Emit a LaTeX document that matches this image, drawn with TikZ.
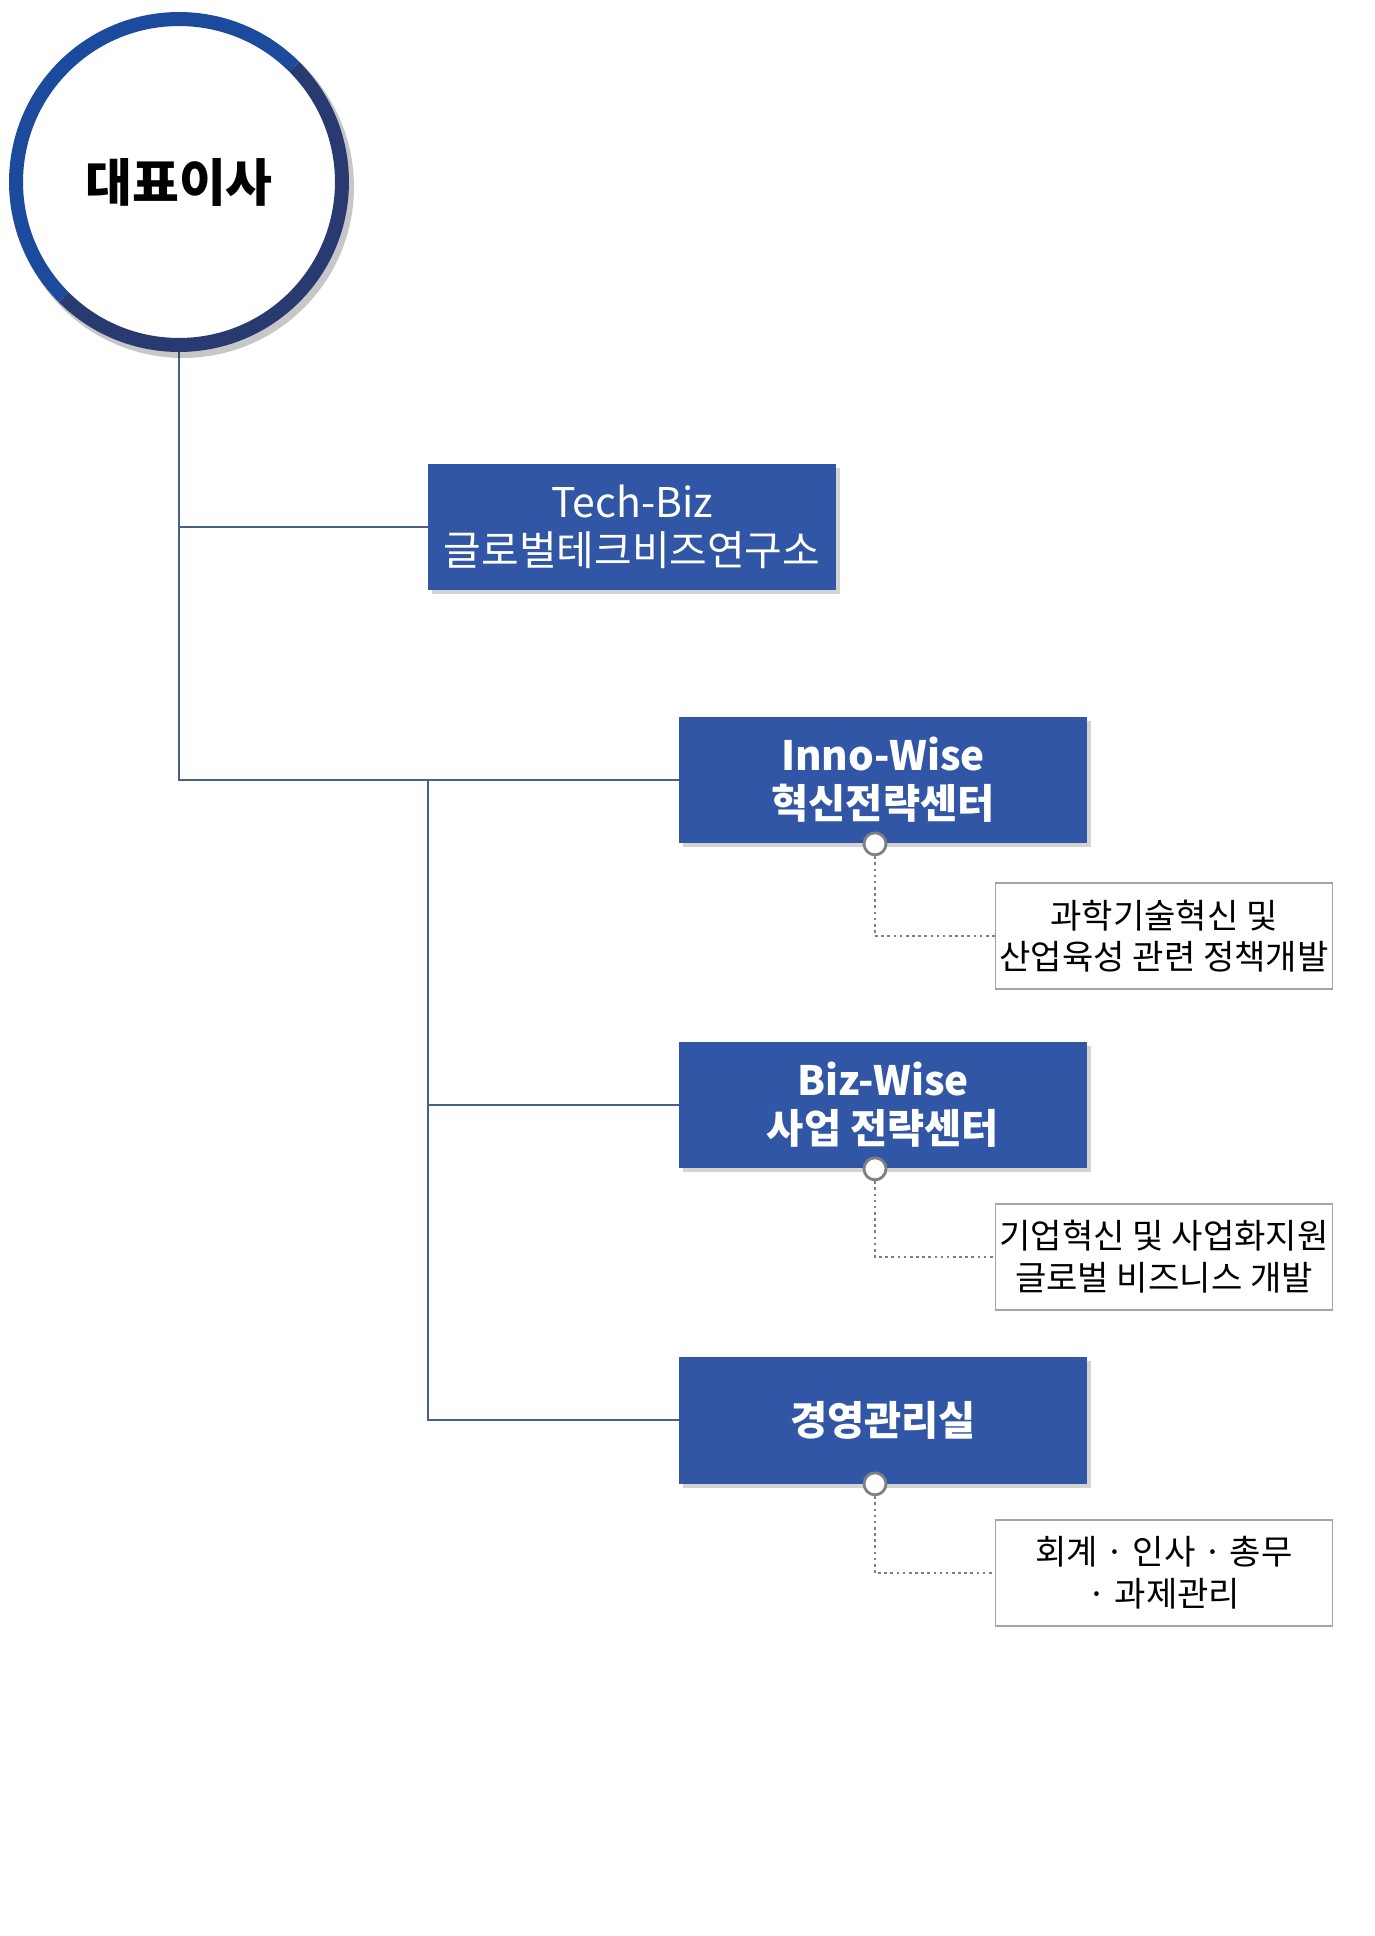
\documentclass[tikz,border=0pt]{standalone}
\usepackage{fontspec}
\usepackage{tikz}
\usetikzlibrary{calc, shadows, backgrounds}
\newfontfamily\krfont{Noto Sans CJK KR}
\definecolor{ceo-blue}{HTML}{1C4A9C}
\definecolor{ceo-navy}{HTML}{293A70}
\definecolor{unit-blue}{HTML}{3056A5}
\definecolor{link-gray}{HTML}{4B5F86}
\definecolor{port-gray}{HTML}{7F7F7F}

\begin{document}
\begin{tikzpicture}[
    x=0.02cm, y=-0.02cm,
    unit/.style={fill=unit-blue, text=white, minimum width=8.16cm, minimum height=2.54cm, inner sep=0pt, align=center, font=\krfont\fontsize{23.3}{27.2}\selectfont, drop shadow={shadow xshift=0.08cm, shadow yshift=-0.08cm, opacity=0.35}},
    unitbold/.style={unit, font=\krfont\bfseries\fontsize{23}{27.2}\selectfont},
    duty/.style={draw=port-gray!70, fill=white, line width=0.8pt, minimum width=6.74cm, minimum height=2.12cm, inner sep=0pt, align=center, font=\krfont\fontsize{19.4}{23.8}\selectfont},
    port/.style={circle, draw=port-gray, line width=1.6pt, fill=white, minimum size=0.44cm, inner sep=0pt},
    link/.style={draw=link-gray, line width=0.9pt},
    dots/.style={draw=port-gray, line width=1.5pt, dotted}
]
    \useasboundingbox (0,0) rectangle (1374,1936);

    \fill [black, opacity=0.22] (183,187) circle [radius=3.42cm];
    \node (ceo) [circle, fill=white, minimum size=6.52cm, inner sep=0pt, font=\krfont\bfseries\fontsize{29}{33}\selectfont] at (179,182) {대표이사};
    \draw [ceo-blue, line width=0.28cm] ([shift={(45:3.26cm)}]ceo.center) arc [start angle=45, end angle=225, radius=3.26cm];
    \draw [ceo-navy, line width=0.28cm] ([shift={(225:3.26cm)}]ceo.center) arc [start angle=225, end angle=405, radius=3.26cm];

    \node (lab) [unit] at (632,527) {Tech-Biz\\글로벌테크비즈연구소};
    \node (inno) [unitbold] at (883,780) {Inno-Wise\\혁신전략센터};
    \node (biz) [unitbold] at (883,1105) {Biz-Wise\\사업 전략센터};
    \node (mgmt) [unitbold] at (883,1420) {경영관리실};

    \node (d1) [duty] at (1164,936) {과학기술혁신 및\\산업육성 관련 정책개발};
    \node (d2) [duty] at (1164,1257) {기업혁신 및 사업화지원\\글로벌 비즈니스 개발};
    \node (d3) [duty] at (1164,1573) {회계 · 인사 · 총무\\· 과제관리};

    \node (p1) [port] at ([xshift=-0.16cm]inno.south) {};
    \node (p2) [port] at ([xshift=-0.16cm]biz.south) {};
    \node (p3) [port] at ([xshift=-0.16cm]mgmt.south) {};

    \coordinate (hub) at (428,780);

    \begin{scope}[on background layer]
        \draw [link] (ceo.south) |- (lab.west);
        \draw [link] (ceo.south) |- (inno.west);
        \draw [link] (hub) |- (biz.west);
        \draw [link] (hub) |- (mgmt.west);

        \draw [dots] (p1) |- (d1.west);
        \draw [dots] (p2) |- (d2.west);
        \draw [dots] (p3) |- (d3.west);
    \end{scope}
\end{tikzpicture}
\end{document}
